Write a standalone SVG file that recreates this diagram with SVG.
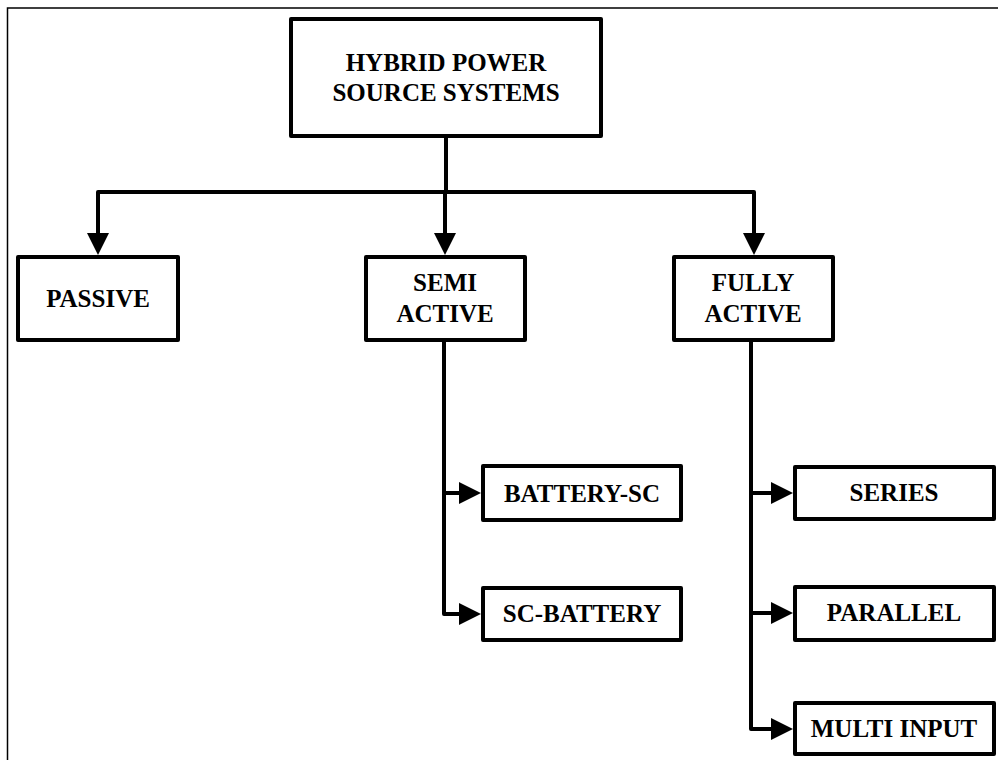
<svg xmlns="http://www.w3.org/2000/svg" width="998" height="760" viewBox="0 0 998 760">
<defs>
<style>
.box{fill:#fff;stroke:#000;stroke-width:4;stroke-linejoin:round}
.con{fill:none;stroke:#000;stroke-width:4;stroke-linejoin:round}
.t{font-family:"Liberation Serif","Times New Roman",serif;font-weight:bold;font-size:25px;fill:#000;text-anchor:middle}
</style>
<marker id="ah" markerUnits="userSpaceOnUse" viewBox="0 0 22 22" refX="0" refY="11" markerWidth="22" markerHeight="22" orient="auto">
<path d="M0,0 L22,11 L0,22 Z" fill="#000"/>
</marker>
</defs>
<rect width="998" height="760" fill="#fff"/>
<path d="M7.5,760 V8 H998" fill="none" stroke="#000" stroke-width="1.5"/>
<g id="connectors">
<path class="con" d="M446,138 V192 H445 V233" marker-end="url(#ah)"/>
<path class="con" d="M446,192 H98 V233" marker-end="url(#ah)"/>
<path class="con" d="M446,192 H754 V233" marker-end="url(#ah)"/>
<path class="con" d="M444,342 V493 H459" marker-end="url(#ah)"/>
<path class="con" d="M444,490 V614 H459" marker-end="url(#ah)"/>
<path class="con" d="M751,342 V493 H771" marker-end="url(#ah)"/>
<path class="con" d="M751,490 V613 H771" marker-end="url(#ah)"/>
<path class="con" d="M751,610 V729 H771" marker-end="url(#ah)"/>
</g>
<g id="hybrid">
<rect class="box" x="291" y="19" width="310" height="117"/>
<text class="t" x="446" y="71">HYBRID POWER</text>
<text class="t" x="446" y="101">SOURCE SYSTEMS</text>
</g>
<g id="passive">
<rect class="box" x="18" y="257" width="160" height="83"/>
<text class="t" x="98" y="307">PASSIVE</text>
</g>
<g id="semi-active">
<rect class="box" x="366" y="257" width="159" height="83"/>
<text class="t" x="445" y="291">SEMI</text>
<text class="t" x="445" y="322">ACTIVE</text>
</g>
<g id="fully-active">
<rect class="box" x="674" y="257" width="159" height="83"/>
<text class="t" x="753" y="291">FULLY</text>
<text class="t" x="753" y="322">ACTIVE</text>
</g>
<g id="battery-sc">
<rect class="box" x="483" y="466" width="198" height="54"/>
<text class="t" x="582" y="502">BATTERY-SC</text>
</g>
<g id="sc-battery">
<rect class="box" x="483" y="588" width="198" height="52"/>
<text class="t" x="582" y="622">SC-BATTERY</text>
</g>
<g id="series">
<rect class="box" x="795" y="467" width="199" height="52"/>
<text class="t" x="894" y="501">SERIES</text>
</g>
<g id="parallel">
<rect class="box" x="795" y="587" width="199" height="53"/>
<text class="t" x="894" y="621">PARALLEL</text>
</g>
<g id="multi-input">
<rect class="box" x="795" y="703" width="199" height="51"/>
<text class="t" x="894" y="737">MULTI INPUT</text>
</g>
</svg>
